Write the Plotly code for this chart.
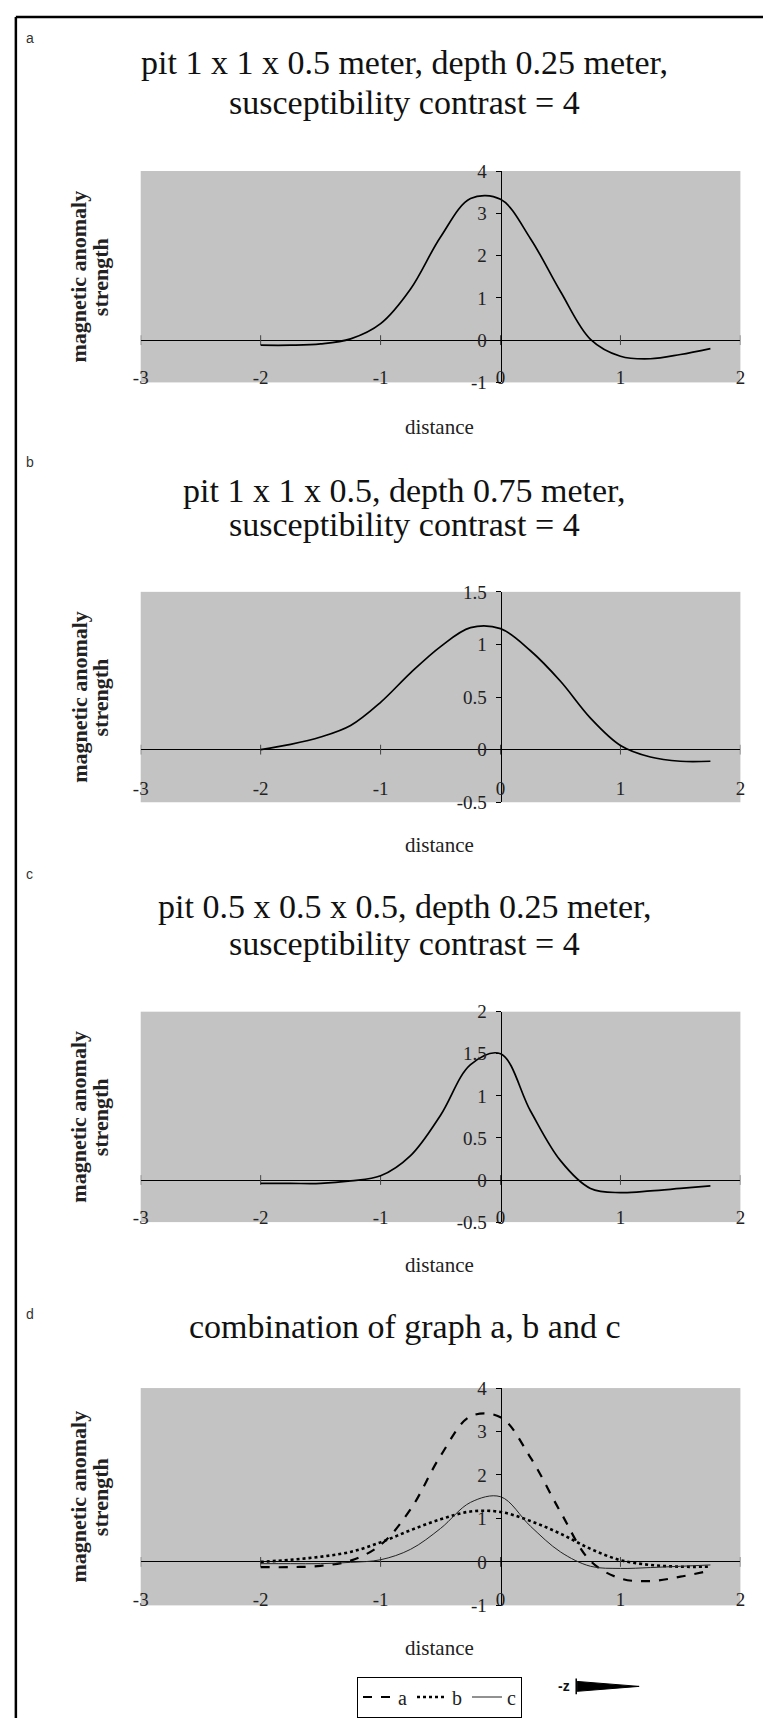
import plotly.graph_objects as go

# ---------------- data ----------------
distance = [-2.0, -1.75, -1.5, -1.25, -1.0, -0.75, -0.5, -0.25, 0.0,
            0.25, 0.5, 0.75, 1.0, 1.25, 1.5, 1.75]
anomaly_a = [-0.12, -0.12, -0.09, 0.03, 0.39, 1.21, 2.44, 3.35, 3.33,
             2.40, 1.15, 0.02, -0.38, -0.44, -0.34, -0.20]
anomaly_b = [0.00, 0.05, 0.12, 0.23, 0.45, 0.73, 0.98, 1.16, 1.15,
             0.94, 0.65, 0.30, 0.04, -0.07, -0.11, -0.11]
anomaly_c = [-0.04, -0.04, -0.04, -0.01, 0.05, 0.29, 0.77, 1.37, 1.50,
             0.82, 0.23, -0.10, -0.15, -0.13, -0.10, -0.07]

x_ticks = [-3, -2, -1, 0, 1, 2]
x_tick_text = ["-3", "-2", "-1", "0", "1", "2"]
y_ticks_a = [-1, 0, 1, 2, 3, 4]
y_text_a = ["-1", "0", "1", "2", "3", "4"]
y_ticks_b = [-0.5, 0, 0.5, 1, 1.5]
y_text_b = ["-0.5", "0", "0.5", "1", "1.5"]
y_ticks_c = [-0.5, 0, 0.5, 1, 1.5, 2]
y_text_c = ["-0.5", "0", "0.5", "1", "1.5", "2"]

panel_letters = ["a", "b", "c", "d"]
titles = [
    ["pit 1 x 1 x 0.5 meter, depth 0.25 meter,", "susceptibility contrast = 4"],
    ["pit 1 x 1 x 0.5, depth 0.75 meter,", "susceptibility contrast = 4"],
    ["pit 0.5 x 0.5 x 0.5, depth 0.25 meter,", "susceptibility contrast = 4"],
    ["combination of graph a, b and c"],
]
legend_names = ["a", "b", "c"]
x_title = "distance"
y_title = ["magnetic anomaly", "strength"]

# ---------------- layout helpers ----------------
W, H = 768, 1729
def px(x):
    return x / W
def py(y):
    return 1 - y / H

SERIF = "Liberation Serif, Times New Roman, serif"
SANS = "Liberation Sans, Arial, sans-serif"
X0, X1 = 135, 745

panels = [
    dict(top=163, bottom=377, yr=[-1, 4], yt=y_ticks_a, ytt=y_text_a, stand=-18,
         letter_y=28, title_y=[53, 94], dist_y=422),
    dict(top=589, bottom=802, yr=[-0.5, 1.5], yt=y_ticks_b, ytt=y_text_b, stand=-27,
         letter_y=458, title_y=[486, 521], dist_y=845),
    dict(top=1014, bottom=1227, yr=[-0.5, 2], yt=y_ticks_c, ytt=y_text_c, stand=-18,
         letter_y=875, title_y=[908, 945], dist_y=1270),
    dict(top=1395, bottom=1615, yr=[-1, 4], yt=y_ticks_a, ytt=y_text_a, stand=-19,
         letter_y=1320, title_y=[1333], dist_y=1658),
]

def ann(x, y, text, font, **kw):
    d = dict(x=px(x), y=py(y), xref="paper", yref="paper", text=text,
             showarrow=False, xanchor="center", yanchor="middle", font=font)
    d.update(kw)
    return d

fig = go.Figure()
layout = dict(
    width=W, height=H, margin=dict(l=0, r=0, t=0, b=0),
    paper_bgcolor="white", plot_bgcolor="#c3c3c3",
    showlegend=True,
    legend=dict(orientation="h", x=px(355), y=py(1687), xanchor="left", yanchor="top",
                bordercolor="black", borderwidth=1, bgcolor="white",
                font=dict(family=SERIF, size=20, color="#222"),
                itemwidth=30, tracegroupgap=0),
)
annotations = []
shapes = []

xr = [-3, 2]
for i, p in enumerate(panels):
    n = "" if i == 0 else str(i + 1)
    xa, ya = "x" + n, "y" + n
    zero_pos = px(X0 + (0 - xr[0]) / (xr[1] - xr[0]) * (X1 - X0))
    layout["xaxis" + n] = dict(
        domain=[px(X0), px(X1)], range=xr, anchor=ya,
        tickvals=x_ticks, ticktext=x_tick_text, ticks="",
        showgrid=False, zeroline=False, showline=False,
        ticklabelstandoff=p["stand"],
        tickfont=dict(family=SERIF, size=19, color="#222"),
    )
    layout["yaxis" + n] = dict(
        domain=[py(p["bottom"]), py(p["top"])], range=p["yr"],
        anchor="free", position=zero_pos,
        tickvals=p["yt"], ticktext=p["ytt"], ticks="outside", ticklen=5,
        tickcolor="black", showline=True, linecolor="black", linewidth=1,
        showgrid=False, zeroline=True, zerolinecolor="black", zerolinewidth=1,
        ticklabelstandoff=5,
        tickfont=dict(family=SERIF, size=19, color="#222"),
    )
    # small tick marks on the zero line (category axis crosses at 0)
    fig.add_trace(go.Scatter(
        x=x_ticks, y=[0] * len(x_ticks), xaxis=xa, yaxis=ya, mode="markers",
        marker=dict(symbol="line-ns", size=7, line=dict(width=1, color="#444")),
        showlegend=False, hoverinfo="skip"))

    if i < 3:
        series = [anomaly_a, anomaly_b, anomaly_c][i]
        fig.add_trace(go.Scatter(
            x=distance, y=series, xaxis=xa, yaxis=ya, mode="lines",
            line=dict(color="black", width=1.7, shape="spline", smoothing=1),
            showlegend=False))
    else:
        styles = [dict(dash="dash", width=2.2, color="black"),
                  dict(dash="dot", width=2.6, color="black"),
                  dict(dash="solid", width=1.0, color="#222")]
        for name, series, st in zip(legend_names, [anomaly_a, anomaly_b, anomaly_c], styles):
            fig.add_trace(go.Scatter(
                x=distance, y=series, xaxis=xa, yaxis=ya, mode="lines", name=name,
                line=dict(color=st["color"], width=st["width"], dash=st["dash"],
                          shape="spline", smoothing=1),
                showlegend=True))

    annotations.append(ann(22, p["letter_y"], panel_letters[i],
                           dict(family=SANS, size=14, color="#333")))
    for line, ty in zip(titles[i], p["title_y"]):
        annotations.append(ann(403, ty, line, dict(family=SERIF, size=34, color="#111")))
    annotations.append(ann(439, p["dist_y"], x_title, dict(family=SERIF, size=21, color="#222")))
    cy = (p["top"] + p["bottom"]) / 2
    for line, lx in zip(y_title, [72, 94]):
        annotations.append(ann(lx, cy, "<b>" + line + "</b>",
                               dict(family=SERIF, size=22, color="#222"), textangle=-90))

# "-z" direction marker
annotations.append(ann(566, 1697, "<b>-z</b>", dict(family=SANS, size=14, color="#111")))
shapes.append(dict(type="line", xref="paper", yref="paper",
                   x0=px(578), x1=px(578), y0=py(1689), y1=py(1705),
                   line=dict(color="black", width=1.5)))
shapes.append(dict(type="path", xref="paper", yref="paper",
                   path=f"M {px(579)},{py(1692)} L {px(579)},{py(1702)} L {px(642)},{py(1697)} Z",
                   fillcolor="black", line=dict(color="black", width=1)))
# outer frame (top and left edges visible)
shapes.append(dict(type="line", xref="paper", yref="paper",
                   x0=px(8), x1=1, y0=py(7), y1=py(7), line=dict(color="black", width=2.5)))
shapes.append(dict(type="line", xref="paper", yref="paper",
                   x0=px(8), x1=px(8), y0=py(7), y1=0, line=dict(color="black", width=2.5)))

layout["annotations"] = annotations
layout["shapes"] = shapes
fig.update_layout(**layout)
fig.write_html("out.html", config={"displayModeBar": False},
               post_script="document.body.style.margin='0px';")
